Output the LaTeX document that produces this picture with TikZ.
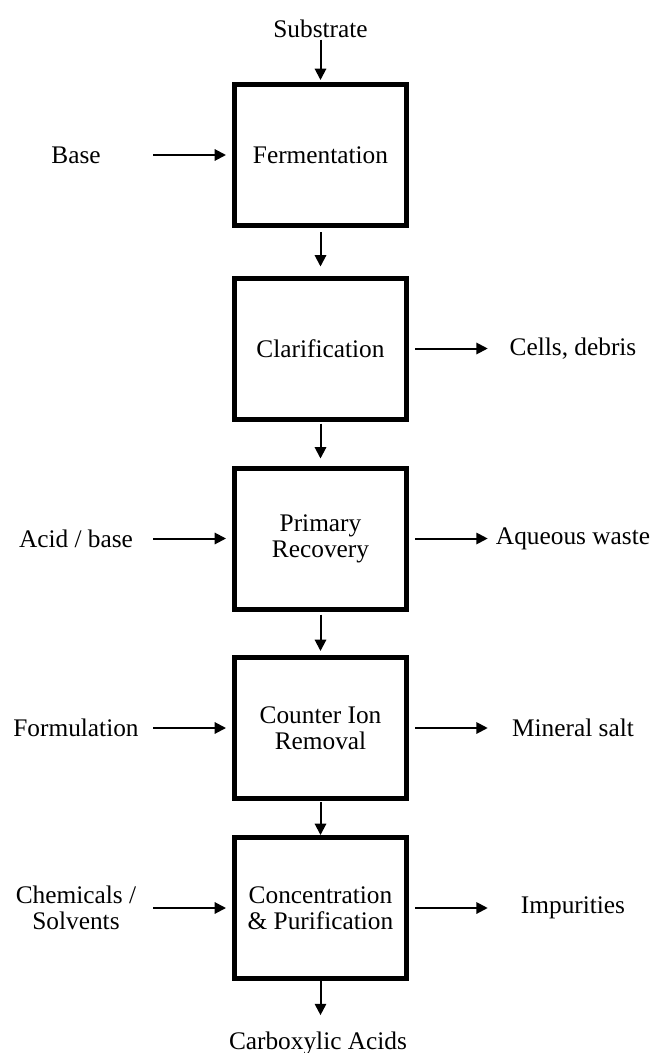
\documentclass[tikz,border=0pt]{standalone}
\usepackage{fontspec}
\setmainfont{Liberation Serif}
\usetikzlibrary{arrows.meta}

\begin{document}
\begin{tikzpicture}[x=0.75pt,y=-0.75pt,
    font=\fontsize{19}{19.5}\selectfont,
    stage/.style={draw,line width=3.75pt,minimum width=129pt,minimum height=105.75pt,align=center,inner sep=0pt},
    inlbl/.style={inner sep=0pt,minimum width=97.5pt,align=center},
    outlbl/.style={inner sep=0pt,minimum width=115.5pt,align=center},
    flow/.style={line width=1.5pt,-{Triangle[width=8.5pt,length=8.5pt]}}]
    \useasboundingbox (0,0) rectangle (653,1053);

    % main stages
    \node[stage] (a) at (320.5,155) {Fermentation};
    \node[stage] (b) at (320.5,348.5) {Clarification};
    \node[stage] (c) at (320.5,538.5) {Primary\\Recovery};
    \node[stage] (d) at (320.5,728) {Counter Ion\\Removal};
    \node[stage] (e) at (320.5,908) {Concentration\\\& Purification};

    % feed and product
    \node[inner sep=0pt,anchor=base] (s) at (320.5,37) {Substrate};
    \node[inner sep=0pt,anchor=base] (p) at (318,1049) {Carboxylic Acids};

    % inputs
    \node[inlbl] (f) at (76,155) {Base};
    \node[inlbl] (g) at (76,538.5) {Acid / base};
    \node[inlbl] (h) at (76,728) {Formulation};
    \node[inlbl] (i) at (76,908) {Chemicals /\\Solvents};

    % outputs
    \node[outlbl] (j) at (573,348.5) {Cells, debris};
    \node[outlbl] (k) at (573,538.5) {Aqueous waste};
    \node[outlbl] (l) at (573,728) {Mineral salt};
    \node[outlbl] (m) at (573,908) {Impurities};

    \draw[flow,shorten <=1.5pt,shorten >=1.5pt] (s.south) -- (a.north);
    \draw[flow,shorten <=3pt,shorten >=6.75pt] (a) -- (b);
    \draw[flow,shorten <=1.5pt,shorten >=5.25pt] (b) -- (c);
    \draw[flow,shorten <=2.25pt,shorten >=3pt] (c) -- (d);
    \draw[flow,shorten <=0.75pt] (d) -- (e);
    \draw[flow,shorten >=12pt] (e) -- (p.north -| e);

    \draw[flow,shorten <=9pt,shorten >=4.5pt] (f) -- (a);
    \draw[flow,shorten <=9pt,shorten >=4.5pt] (g) -- (c);
    \draw[flow,shorten <=9pt,shorten >=4.5pt] (h) -- (d);
    \draw[flow,shorten <=9pt,shorten >=4.5pt] (i) -- (e);

    \draw[flow,shorten <=4.5pt,shorten >=6pt] (b) -- (j);
    \draw[flow,shorten <=4.5pt,shorten >=6pt] (c) -- (k);
    \draw[flow,shorten <=4.5pt,shorten >=6pt] (d) -- (l);
    \draw[flow,shorten <=4.5pt,shorten >=6pt] (e) -- (m);
\end{tikzpicture}
\end{document}
